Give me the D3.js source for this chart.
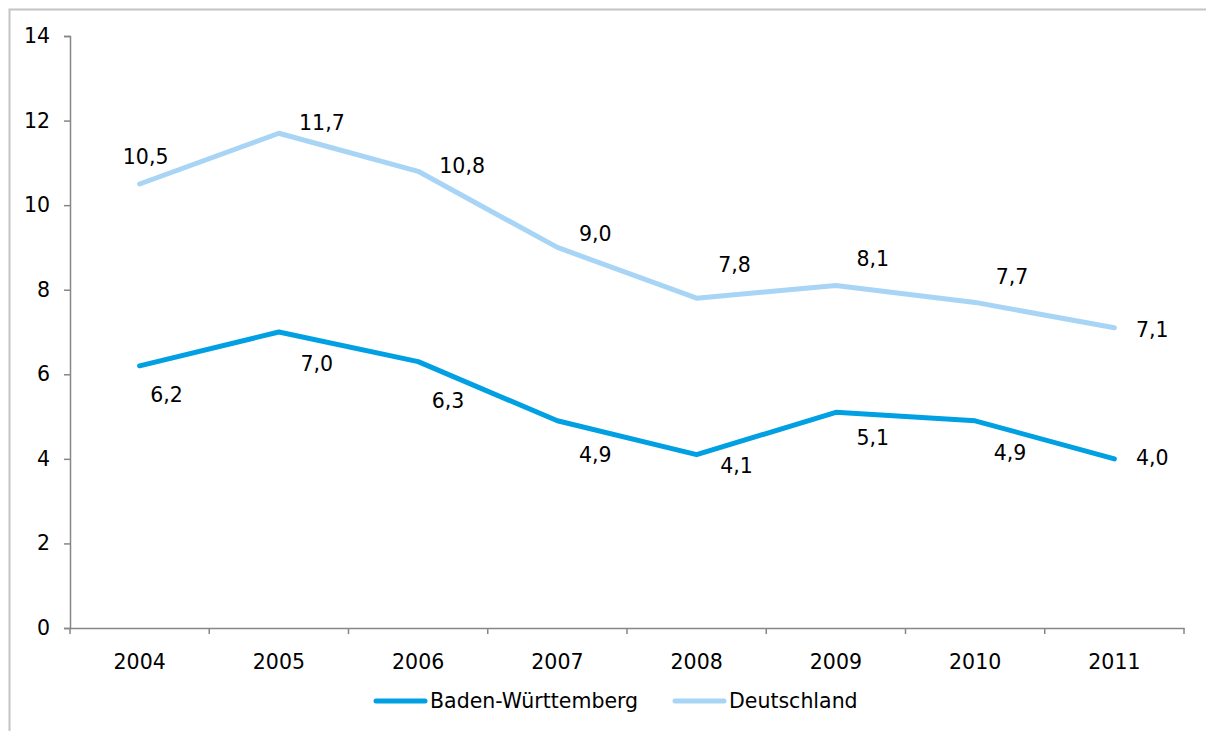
<!DOCTYPE html>
<html>
<head>
<meta charset="utf-8">
<script src="https://cdn.jsdelivr.net/npm/d3@7"></script>
<style>
  html, body { margin: 0; padding: 0; background: #ffffff; }
  svg { display: block; }
  text { font-family: "DejaVu Sans", Verdana, sans-serif; font-size: 20.5px; fill: #000; }
</style>
</head>
<body>
<svg id="chart" width="1206" height="731"></svg>
<script>
// Years on the category axis
const years = ["2004", "2005", "2006", "2007", "2008", "2009", "2010", "2011"];
// Series values (Quote in %)
const badenWuerttemberg = [6.2, 7.0, 6.3, 4.9, 4.1, 5.1, 4.9, 4.0];
const deutschland = [10.5, 11.7, 10.8, 9.0, 7.8, 8.1, 7.7, 7.1];
// Y axis tick values
const yTicks = [0, 2, 4, 6, 8, 10, 12, 14];
// Series names for the legend
const seriesNames = ["Baden-Württemberg", "Deutschland"];

// Label offsets relative to each point (dx, dy to text baseline)
const labelOffsetBW = [[27, 36], [38, 39], [30, 46], [38, 41], [40, 18], [37, 33], [35, 39], [38, 6]];
const labelOffsetDE = [[6, -20], [43, -3], [44, 2], [38, -6], [38, -26], [37, -19], [37, -18], [38, 9]];

const colors = { bw: "#00A0E3", de: "#A8D5F5", axis: "#868686", frame: "#C4C4C4" };
const fontSize = 20.5;

const svg = d3.select("#chart");

// Outer chart frame (open at the right and bottom edge)
svg.append("path")
  .attr("d", "M9.5,731 L9.5,9.5 L1206,9.5")
  .attr("fill", "none")
  .attr("stroke", colors.frame)
  .attr("stroke-width", 2);

const plot = { left: 70, right: 1184, top: 36, bottom: 628 };

const x = d3.scaleBand().domain(years).range([plot.left, plot.right]);
const y = d3.scaleLinear().domain([0, 14]).range([plot.bottom, plot.top]);
const cx = d => x(d) + x.bandwidth() / 2;

// Y axis
const yAxis = svg.append("g")
  .attr("transform", `translate(${plot.left},0)`)
  .call(d3.axisLeft(y).tickValues(yTicks).tickSize(6).tickPadding(14).tickFormat(d3.format("d")));
yAxis.select(".domain").attr("stroke", colors.axis).attr("stroke-width", 1.5);
yAxis.selectAll(".tick line").attr("stroke", colors.axis).attr("stroke-width", 1.5);
yAxis.selectAll(".tick text").attr("font-size", fontSize).attr("font-family", null).attr("fill", "#000");

// X axis with ticks at band boundaries
const xAxis = svg.append("g")
  .attr("transform", `translate(0,${plot.bottom})`)
  .call(d3.axisBottom(x).tickSize(0).tickPadding(26));
xAxis.select(".domain").attr("stroke", colors.axis).attr("stroke-width", 1.5);
xAxis.selectAll(".tick text").attr("font-size", fontSize).attr("font-family", null).attr("fill", "#000");
const boundaries = years.map(d => x(d)).concat([x(years[years.length - 1]) + x.bandwidth()]);
svg.append("g").selectAll("line").data(boundaries).join("line")
  .attr("x1", d => d).attr("x2", d => d)
  .attr("y1", plot.bottom).attr("y2", plot.bottom + 6)
  .attr("stroke", colors.axis).attr("stroke-width", 1.5);

// Lines
const line = d3.line().x((d, i) => cx(years[i])).y(d => y(d));
function drawSeries(values, color, offsets) {
  svg.append("path")
    .datum(values)
    .attr("d", line)
    .attr("fill", "none")
    .attr("stroke", color)
    .attr("stroke-width", 5)
    .attr("stroke-linecap", "round")
    .attr("stroke-linejoin", "round");
  svg.append("g").selectAll("text").data(values).join("text")
    .attr("x", (d, i) => cx(years[i]) + offsets[i][0])
    .attr("y", (d, i) => y(d) + offsets[i][1])
    .attr("text-anchor", "middle")
    .text(d => d3.format(".1f")(d).replace(".", ","));
}
drawSeries(deutschland, colors.de, labelOffsetDE);
drawSeries(badenWuerttemberg, colors.bw, labelOffsetBW);

// Legend
const legendItems = [
  { name: seriesNames[0], color: colors.bw, x: 376 },
  { name: seriesNames[1], color: colors.de, x: 675 }
];
const legend = svg.append("g").selectAll("g").data(legendItems).join("g")
  .attr("transform", d => `translate(${d.x},701)`);
legend.append("line")
  .attr("x1", 0).attr("x2", 49).attr("y1", 0).attr("y2", 0)
  .attr("stroke", d => d.color).attr("stroke-width", 5).attr("stroke-linecap", "round");
legend.append("text")
  .attr("x", 54).attr("y", 7)
  .text(d => d.name);
</script>
</body>
</html>
